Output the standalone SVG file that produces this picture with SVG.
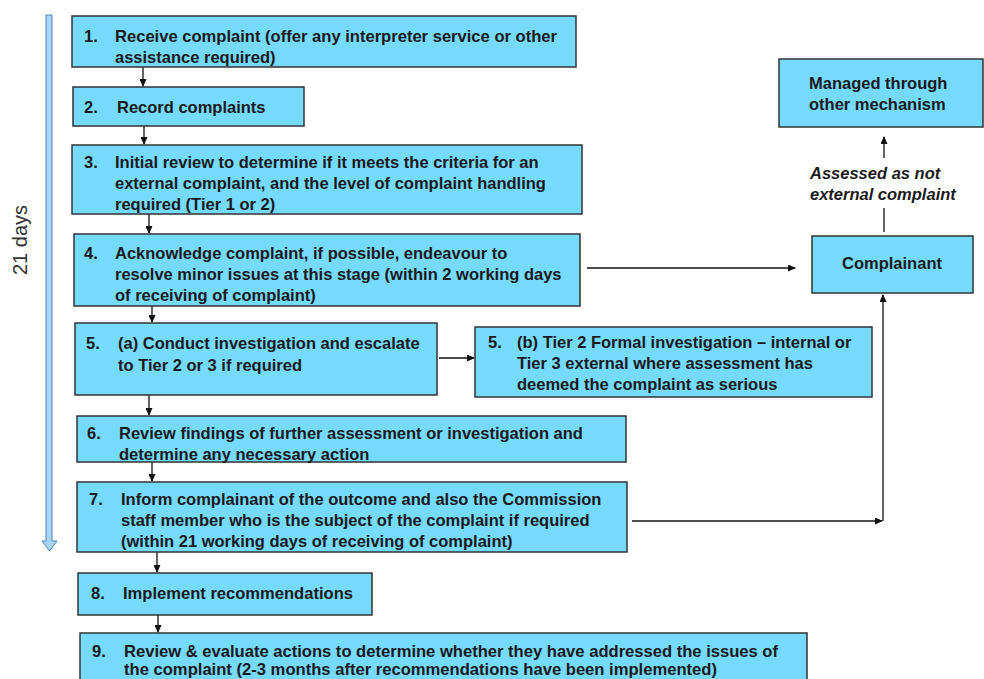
<svg xmlns="http://www.w3.org/2000/svg" width="984" height="679" viewBox="0 0 984 679">
<style>
.box{fill:#76d9fe;stroke:#333;stroke-width:1.5}
.t{font-family:"Liberation Sans",Arial,sans-serif;font-size:16.5px;font-weight:bold;fill:#1a1a1a}
.i{font-family:"Liberation Sans",Arial,sans-serif;font-size:16.5px;font-weight:bold;font-style:italic;fill:#1a1a1a}
.c{fill:none;stroke:#111;stroke-width:1.3}
</style>
<defs>
<marker id="ah" markerWidth="8" markerHeight="7" refX="7" refY="3.5" orient="auto" markerUnits="userSpaceOnUse">
<path d="M0,0 L8,3.5 L0,7 z" fill="#111"/>
</marker>
</defs>
<rect width="984" height="679" fill="#fff"/>
<g id="timeline">
<path d="M46,15 H52 V541 H57 L49.5,551 L42,541 H46 Z" fill="#a8d4f5" stroke="#4f81bd" stroke-width="1"/>
<text transform="translate(27,240) rotate(-90)" text-anchor="middle" font-family="Liberation Sans,Arial,sans-serif" font-size="20" fill="#333">21 days</text>
</g>
<g id="connectors">
<path class="c" d="M143,67 V86" marker-end="url(#ah)"/>
<path class="c" d="M144,126 V144" marker-end="url(#ah)"/>
<path class="c" d="M149,214 V233" marker-end="url(#ah)"/>
<path class="c" d="M152,306 V322" marker-end="url(#ah)"/>
<path class="c" d="M149,395 V415" marker-end="url(#ah)"/>
<path class="c" d="M152,462 V481" marker-end="url(#ah)"/>
<path class="c" d="M157,552 V572" marker-end="url(#ah)"/>
<path class="c" d="M158,615 V632" marker-end="url(#ah)"/>
<path class="c" d="M439,358 H474" marker-end="url(#ah)"/>
<path class="c" d="M587,268 H795" marker-end="url(#ah)"/>
<path class="c" d="M632,521 H882" marker-end="url(#ah)"/>
<path class="c" d="M883,521 V295" marker-end="url(#ah)"/>
<path class="c" d="M884,232 V208"/>
<path class="c" d="M884,158 V137" marker-end="url(#ah)"/>
</g>
<g id="n1">
<rect class="box" x="72" y="16" width="504" height="51"/>
<text class="t" x="84" y="42">1.</text>
<text class="t" x="115" y="42" textLength="442" lengthAdjust="spacingAndGlyphs">Receive complaint (offer any interpreter service or other</text>
<text class="t" x="115" y="63">assistance required)</text>
</g>
<g id="n2">
<rect class="box" x="73" y="87" width="231" height="39"/>
<text class="t" x="84" y="113">2.</text>
<text class="t" x="117" y="113">Record complaints</text>
</g>
<g id="n3">
<rect class="box" x="72" y="145" width="510" height="69"/>
<text class="t" x="84" y="168">3.</text>
<text class="t" x="115" y="168">Initial review to determine if it meets the criteria for an</text>
<text class="t" x="115" y="189">external complaint, and the level of complaint handling</text>
<text class="t" x="115" y="210">required (Tier 1 or 2)</text>
</g>
<g id="n4">
<rect class="box" x="74" y="234" width="506" height="72"/>
<text class="t" x="84" y="259">4.</text>
<text class="t" x="115" y="259">Acknowledge complaint, if possible, endeavour to</text>
<text class="t" x="115" y="280">resolve minor issues at this stage (within 2 working days</text>
<text class="t" x="115" y="301">of receiving of complaint)</text>
</g>
<g id="n5a">
<rect class="box" x="75" y="323" width="362" height="72"/>
<text class="t" x="86" y="349">5.</text>
<text class="t" x="118" y="349">(a) Conduct investigation and escalate</text>
<text class="t" x="118" y="371">to Tier 2 or 3 if required</text>
</g>
<g id="n5b">
<rect class="box" x="475" y="327" width="397" height="70"/>
<text class="t" x="488" y="348">5.</text>
<text class="t" x="517" y="348">(b) Tier 2 Formal investigation – internal or</text>
<text class="t" x="517" y="369">Tier 3 external where assessment has</text>
<text class="t" x="517" y="390">deemed the complaint as serious</text>
</g>
<g id="n6">
<rect class="box" x="77" y="416" width="549" height="46"/>
<text class="t" x="87" y="439">6.</text>
<text class="t" x="119" y="439">Review findings of further assessment or investigation and</text>
<text class="t" x="119" y="460">determine any necessary action</text>
</g>
<g id="n7">
<rect class="box" x="77" y="482" width="550" height="70"/>
<text class="t" x="89" y="505">7.</text>
<text class="t" x="121" y="505">Inform complainant of the outcome and also the Commission</text>
<text class="t" x="121" y="526">staff member who is the subject of the complaint if required</text>
<text class="t" x="121" y="547">(within 21 working days of receiving of complaint)</text>
</g>
<g id="n8">
<rect class="box" x="78" y="573" width="294" height="42"/>
<text class="t" x="91" y="599">8.</text>
<text class="t" x="123" y="599" textLength="230" lengthAdjust="spacingAndGlyphs">Implement recommendations</text>
</g>
<g id="n9">
<rect class="box" x="80" y="633" width="727" height="60"/>
<text class="t" x="92" y="657">9.</text>
<text class="t" x="124" y="657" textLength="654" lengthAdjust="spacingAndGlyphs">Review &amp; evaluate actions to determine whether they have addressed the issues of</text>
<text class="t" x="124" y="675" textLength="593" lengthAdjust="spacingAndGlyphs">the complaint (2-3 months after recommendations have been implemented)</text>
</g>
<g id="complainant">
<rect class="box" x="812" y="236" width="161" height="57"/>
<text class="t" x="892" y="269" text-anchor="middle">Complainant</text>
</g>
<g id="managed">
<rect class="box" x="779" y="59" width="204" height="68"/>
<text class="t" x="809" y="89">Managed through</text>
<text class="t" x="809" y="110">other mechanism</text>
</g>
<g id="label">
<text class="i" x="810" y="179">Assessed as not</text>
<text class="i" x="810" y="200">external complaint</text>
</g>
</svg>
